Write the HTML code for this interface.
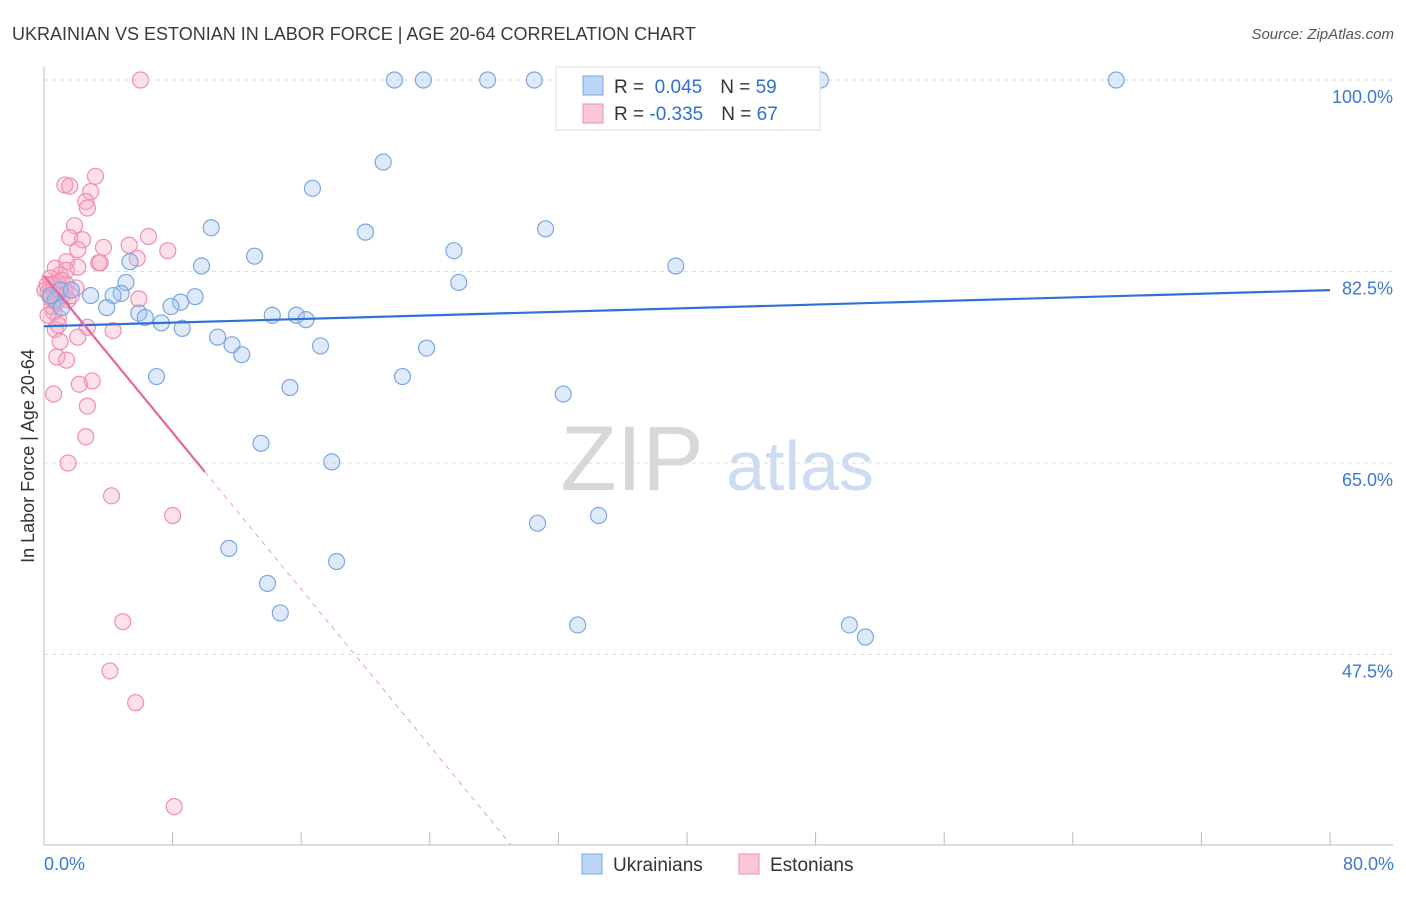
<!DOCTYPE html>
<html><head><meta charset="utf-8"><style>
body{margin:0;background:#fff;font-family:"Liberation Sans",sans-serif}
svg text{font-family:"Liberation Sans",sans-serif}
</style></head><body>
<svg id="chart" width="1406" height="892" viewBox="0 0 1406 892" xmlns="http://www.w3.org/2000/svg">
<text x="12" y="40" font-size="18" fill="#3a3a3a">UKRAINIAN VS ESTONIAN IN LABOR FORCE | AGE 20-64 CORRELATION CHART</text>
<text x="1394" y="39" font-size="15" fill="#555" text-anchor="end" font-style="italic">Source: ZipAtlas.com</text>
<g id="grid"></g>
<g>
<text x="632" y="490" font-size="92" fill="#d8d8d8" text-anchor="middle" font-family="Liberation Serif, serif">ZIP</text>
<text x="800" y="490" font-size="70" fill="#cddcf0" text-anchor="middle">atlas</text>
</g>
<g id="axes"></g>
<g id="pts"></g>
<g id="lines"></g>
<text transform="translate(34,456) rotate(-90)" font-size="18" fill="#333" text-anchor="middle">In Labor Force | Age 20-64</text>
<text x="44" y="870" font-size="18" fill="#3b78d0">0.0%</text>
<text x="1394" y="870" font-size="18" fill="#3b78d0" text-anchor="end">80.0%</text>
<g>
<rect x="556" y="67" width="264" height="63" fill="#fff" stroke="#ddd"/>
<rect x="583" y="76" width="20" height="19" fill="#bcd4f5" stroke="#7aa7e0"/>
<rect x="583" y="104" width="20" height="19" fill="#f9c6d6" stroke="#ef8fb0"/>
<text x="614" y="93" font-size="19" fill="#333">R = <tspan fill="#2f6fd0">&#160;0.045</tspan><tspan dx="18">N = </tspan><tspan fill="#2f6fd0">59</tspan></text>
<text x="614" y="120" font-size="19" fill="#333">R = <tspan fill="#2f6fd0">-0.335</tspan><tspan dx="18">N = </tspan><tspan fill="#2f6fd0">67</tspan></text>
</g>
<g>
<rect x="582" y="854" width="20" height="20" fill="#bcd4f5" stroke="#7aa7e0"/>
<text x="613" y="871" font-size="19" fill="#333">Ukrainians</text>
<rect x="739" y="854" width="20" height="20" fill="#f9c6d6" stroke="#ef8fb0"/>
<text x="770" y="871" font-size="19" fill="#333">Estonians</text>
</g>
</svg>
<script>
const yTicks=[100,82.5,65,47.5];
const yTickLabels=["100.0%","82.5%","65.0%","47.5%"];
const xTicks=[0,8,16,24,32,40,48,56,64,72,80];
const blueX=[21.8,23.6,27.6,30.5,35.8,36.7,48.3,66.7,21.1,16.7,10.4,20.0,31.2,25.5,13.1,5.35,9.8,39.3,25.8,5.1,4.8,4.3,2.9,9.4,8.5,7.9,3.9,5.9,6.3,14.2,15.7,16.3,7.3,8.6,10.8,11.7,17.2,12.3,23.8,7.0,22.3,15.3,32.3,13.5,17.9,30.7,34.5,11.5,18.2,13.9,14.7,33.2,50.1,51.1,1.0,1.7,0.7,0.4,1.1];
const blueY=[100,100,100,100,100,100,100,100,92.5,90.1,86.5,86.1,86.4,84.4,83.9,83.4,83.0,83.0,81.5,81.5,80.5,80.3,80.3,80.2,79.7,79.3,79.2,78.7,78.3,78.5,78.5,78.1,77.8,77.3,76.5,75.8,75.7,74.9,75.5,72.9,72.9,71.9,71.3,66.8,65.1,59.5,60.2,57.2,56.0,54.0,51.3,50.2,50.2,49.1,80.8,80.8,79.9,80.3,79.2];
const pinkX=[6.0,3.2,1.3,1.6,2.9,2.6,2.7,1.9,6.5,1.6,2.4,5.3,3.7,2.1,7.7,5.8,3.4,1.4,2.1,0.7,1.0,0.4,0.9,1.4,2.0,0.25,0.7,1.1,0.4,5.9,0.8,1.5,0.6,0.9,2.7,4.3,0.7,2.1,1.0,0.8,1.4,3.0,2.2,0.6,2.7,2.6,1.5,4.2,8.0,4.9,4.1,5.7,8.1,0.06,1.0,0.4,1.3,0.5,1.7,0.9,0.2,0.25,1.4,3.5,0.6,1.1,0.4];
const pinkY=[100,91.2,90.4,90.3,89.8,88.9,88.3,86.7,85.7,85.6,85.4,84.9,84.7,84.5,84.4,83.7,83.3,83.4,82.9,82.8,82.2,81.9,81.5,81.3,81.0,80.6,80.4,80.3,80.1,80.0,79.7,79.9,78.8,78.3,77.4,77.1,77.2,76.5,76.1,74.7,74.4,72.5,72.2,71.3,70.2,67.4,65.0,62.0,60.2,50.5,46.0,43.1,33.6,80.8,80.8,81.3,80.8,79.3,80.3,77.6,81.3,78.5,82.6,83.3,81.3,81.7,80.1];
const blueTrend=[77.5,80.8];
const pinkTrend=[82.1,-1.79];
const NS="http://www.w3.org/2000/svg";
const X=v=>44+v*16.075, Y=v=>80+(100-v)*10.943;
function mk(t,a,p){const e=document.createElementNS(NS,t);for(const k in a)e.setAttribute(k,a[k]);p.appendChild(e);return e;}
const grid=document.getElementById('grid'),axes=document.getElementById('axes'),pts=document.getElementById('pts'),lines=document.getElementById('lines');
yTicks.forEach((v,i)=>{
 const l=mk('line',{x1:44,x2:1393,y1:Y(v),y2:Y(v),stroke:'#ddd','stroke-dasharray':'4,4'},grid);
 
 
 const t=mk('text',{x:1393,y:Y(v)+23,'font-size':18,fill:'#3b78d0','text-anchor':'end'},axes);
 t.textContent=yTickLabels[i];
 
 
});
mk('line',{x1:44,x2:44,y1:67,y2:845,stroke:'#bbb'},axes);
mk('line',{x1:44,x2:1393,y1:845,y2:845,stroke:'#bbb'},axes);
xTicks.forEach(v=>{const t=mk('line',{x1:X(v),x2:X(v),y1:832,y2:845,stroke:'#bbb'},axes);
 
 });
pinkX.forEach((x,i)=>{const c=mk('circle',{cx:X(x),cy:Y(pinkY[i]),r:8,fill:'rgba(245,170,195,0.35)',stroke:'#ef8fb0','stroke-width':1.2},pts);
 
 });
blueX.forEach((x,i)=>{const c=mk('circle',{cx:X(x),cy:Y(blueY[i]),r:8,fill:'rgba(160,196,240,0.35)',stroke:'#7aa7e0','stroke-width':1.2},pts);
 
 });
const bl=mk('line',{x1:X(0),y1:Y(blueTrend[0]),x2:X(80),y2:Y(blueTrend[1]),stroke:'#2f72d6','stroke-width':2.2},lines);


const pv=x=>pinkTrend[0]+pinkTrend[1]*x;
const pl=mk('line',{x1:X(0),y1:Y(pv(0)),x2:X(10),y2:Y(pv(10)),stroke:'#e8679a','stroke-width':2.2},lines);


const xe=(pinkTrend[0]-30.1)/-pinkTrend[1];
const pd=mk('line',{x1:X(10),y1:Y(pv(10)),x2:X(xe),y2:Y(pv(xe)),stroke:'#eaa0bd','stroke-width':1,'stroke-dasharray':'5,5'},lines);


</script>
</body></html>
